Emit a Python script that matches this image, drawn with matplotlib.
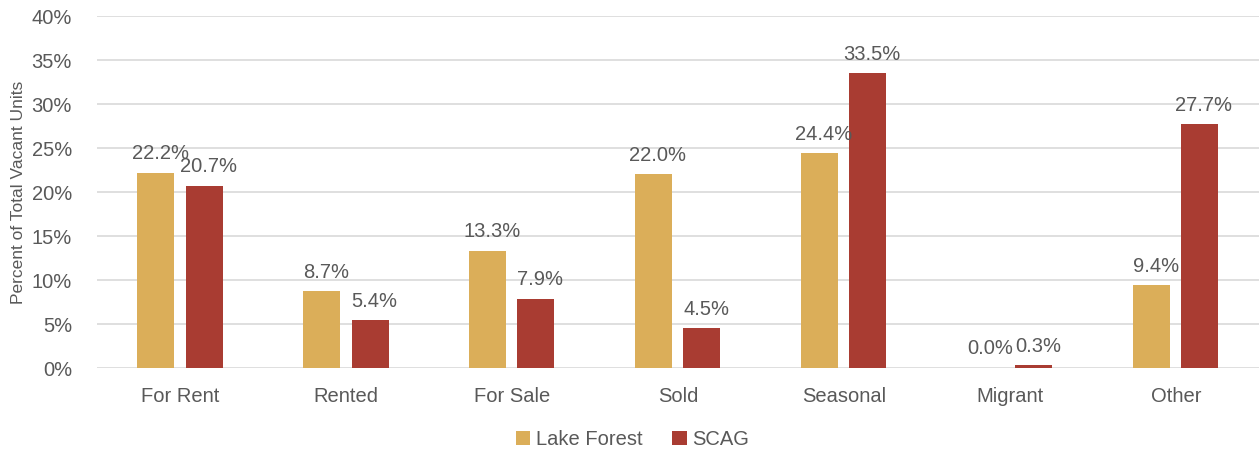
import matplotlib.pyplot as plt
import numpy as np

categories = ["For Rent", "Rented", "For Sale", "Sold", "Seasonal", "Migrant", "Other"]
lake_forest = [22.2, 8.7, 13.3, 22.0, 24.4, 0.0, 9.4]
scag = [20.7, 5.4, 7.9, 4.5, 33.5, 0.3, 27.7]
series_names = ["Lake Forest", "SCAG"]

plt.rcParams['font.family'] = ['Liberation Sans', 'DejaVu Sans']
text_color = '#595959'

fig = plt.figure(figsize=(12.6, 4.53), dpi=100)
ax = fig.add_axes([0.077, 0.1876, 0.922, 0.777])

x = np.arange(len(categories))
w = 0.223
off = 0.145
b1 = ax.bar(x - off, lake_forest, w, color='#DBAE59', label=series_names[0], zorder=3)
b2 = ax.bar(x + off, scag, w, color='#A93C32', label=series_names[1], zorder=3)

for bars, vals in ((b1, lake_forest), (b2, scag)):
    for b, v in zip(bars, vals):
        ax.annotate(f"{v:.1f}%", (b.get_x() + b.get_width() / 2, v),
                    xytext=(3, 7), textcoords='offset points',
                    ha='center', va='bottom', fontsize=14.5, color=text_color)

ax.set_xlim(-0.5, len(categories) - 0.5)
ax.set_ylim(0, 40)
ax.set_yticks(range(0, 41, 5))
ax.set_yticklabels([f"{t}%" for t in range(0, 41, 5)])
ax.set_xticks(x)
ax.set_xticklabels(categories)
ax.tick_params(axis='both', length=0, labelsize=14.5, colors=text_color)
ax.tick_params(axis='x', pad=14)
ax.tick_params(axis='y', pad=18)
ax.grid(axis='y', color='#D9D9D9', linewidth=1.2, zorder=0)
for s in ax.spines.values():
    s.set_visible(False)
ax.set_ylabel("Percent of Total Vacant Units", fontsize=12.5, color=text_color, labelpad=4)

fig.legend(loc='center', bbox_to_anchor=(0.502, 0.029), ncol=2, frameon=False,
           fontsize=14.5, handlelength=0.7, handleheight=0.7, handletextpad=0.3,
           columnspacing=1.5, labelcolor=text_color)

fig.savefig("out.png", dpi=100)
